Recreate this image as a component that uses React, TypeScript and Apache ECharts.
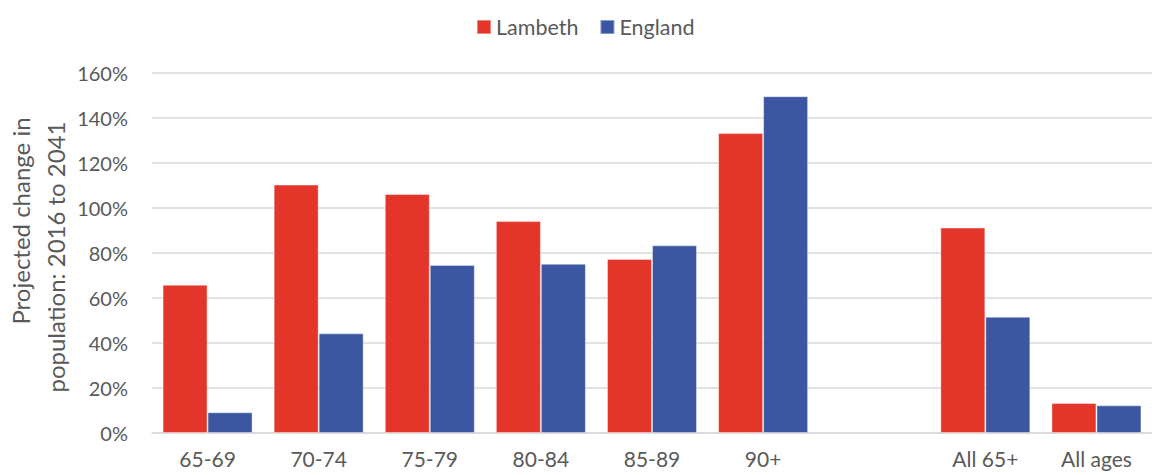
import React, { useEffect, useRef } from "react";
import * as echarts from "echarts";

const categories = ["65-69", "70-74", "75-79", "80-84", "85-89", "90+", "", "All 65+", "All ages"];
const lambeth = [65.9, 110.4, 106.2, 94.2, 77.3, 133.3, null, 91.3, 13.3];
const england = [9.2, 44.3, 74.7, 75.2, 83.4, 149.7, null, 51.7, 12.3];
const yTicks = { min: 0, max: 160, interval: 20 };
const axisNameLines = ["Projected change in", "population: 2016 to 2041"];

const FONT = "Lato, 'Open Sans', sans-serif";
const TEXT = "#595959";

export default function App() {
  const ref = useRef<HTMLDivElement>(null);
  useEffect(() => {
    if (!ref.current) return;
    const chart = echarts.init(ref.current, undefined, { renderer: "svg" });
    chart.setOption({
      animation: false,
      textStyle: { fontFamily: FONT, color: TEXT },
      legend: {
        left: 471,
        top: 11,
        itemWidth: 14,
        itemHeight: 14,
        itemGap: 21,
        icon: "rect",
        textStyle: { fontFamily: FONT, fontSize: 21.5, color: TEXT },
        data: ["Lambeth", "England"],
      },
      grid: { left: 152, right: -8, top: 73, bottom: 42, containLabel: false },
      xAxis: {
        type: "category",
        data: categories,
        axisLine: { lineStyle: { color: "#d9d9d9", width: 1.5 } },
        axisTick: { show: false },
        axisLabel: { fontFamily: FONT, fontSize: 21, color: TEXT, margin: 15, interval: 0 },
      },
      yAxis: {
        type: "value",
        min: yTicks.min,
        max: yTicks.max,
        interval: yTicks.interval,
        axisLine: { show: false },
        axisTick: { show: false },
        splitLine: { lineStyle: { color: "#d9d9d9", width: 1.5 } },
        axisLabel: { fontFamily: FONT, fontSize: 20, color: TEXT, margin: 24, formatter: "{value}%" },
      },
      graphic: [
        {
          type: "text",
          x: 20,
          y: 221,
          rotation: Math.PI / 2,
          style: {
            text: axisNameLines[0],
            fontFamily: FONT,
            fontSize: 24,
            fill: TEXT,
            align: "center",
            verticalAlign: "middle",
          },
        },
        {
          type: "text",
          x: 55,
          y: 257,
          rotation: Math.PI / 2,
          style: {
            text: axisNameLines[1],
            fontFamily: FONT,
            fontSize: 24,
            fill: TEXT,
            align: "center",
            verticalAlign: "middle",
          },
        },
      ],
      series: [
        {
          name: "Lambeth",
          type: "bar",
          data: lambeth,
          barWidth: 45,
          barGap: "0%",
          itemStyle: { color: "#E3352A", borderColor: "rgba(255,255,255,0.4)", borderWidth: 1 },
        },
        {
          name: "England",
          type: "bar",
          data: england,
          barWidth: 45,
          barGap: "0%",
          itemStyle: { color: "#3C56A2", borderColor: "rgba(255,255,255,0.4)", borderWidth: 1 },
        },
      ],
    });
    return () => chart.dispose();
  }, []);
  return (
    <div
      ref={ref}
      style={{ position: "absolute", left: 0, top: 0, width: 1152, height: 475, background: "#fff" }}
    />
  );
}
